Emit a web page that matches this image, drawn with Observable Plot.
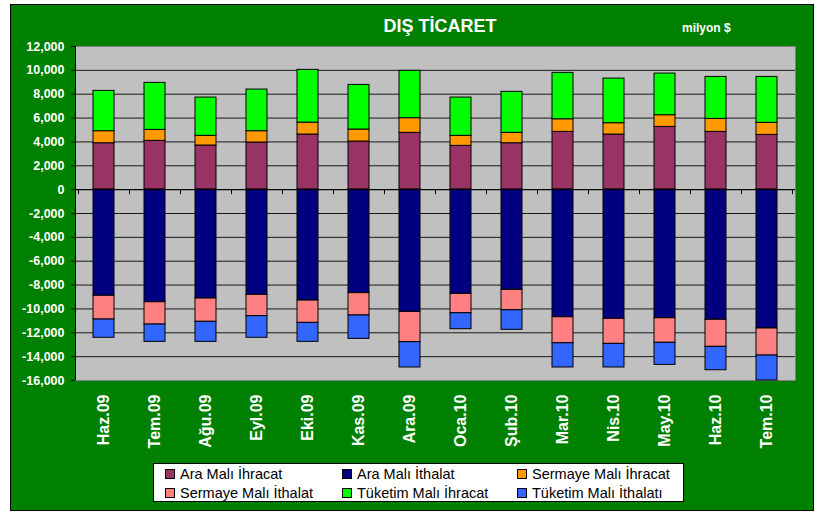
<!DOCTYPE html>
<html>
<head>
<meta charset="utf-8">
<script src="https://cdn.jsdelivr.net/npm/d3@7"></script>
<script src="https://cdn.jsdelivr.net/npm/@observablehq/plot@0.6"></script>
<style>
  body { margin: 0; background: #ffffff; }
  #wrap { position: relative; width: 819px; height: 513px; overflow: hidden; font-family: "Liberation Sans", Arial, sans-serif; }
  #panel { position: absolute; left: 10px; top: 4px; width: 804px; height: 507px; background: #008000; border: 1px solid #000; box-sizing: border-box; }
  #chart { position: absolute; left: 0; top: 0; }
  #title { position: absolute; left: 340px; width: 200px; top: 15px; text-align: center; color: #fff; font-weight: bold; font-size: 18px; line-height: 22px; }
  #unit { position: absolute; left: 682px; top: 20px; color: #fff; font-weight: bold; font-size: 12px; line-height: 16px; }
  #legend { position: absolute; left: 153px; top: 463px; width: 531px; height: 39px; background: #fff; border: 1px solid #000; box-sizing: border-box;
            display: grid; grid-template-columns: 177px 175px 167px; grid-template-rows: 19px 19px; padding-left: 11px; padding-top: 0px; }
  .item { display: flex; align-items: center; font-size: 14.5px; color: #000; white-space: nowrap; }
  .sw { width: 8px; height: 8px; border: 1px solid #000; margin-right: 5px; flex: none; }
</style>
</head>
<body>
<div id="wrap">
  <div id="panel"></div>
  <div id="chart"></div>
  <div id="title">DIŞ TİCARET</div>
  <div id="unit">milyon $</div>
  <div id="legend"></div>
</div>
<script>
const months = ["Haz.09","Tem.09","Ağu.09","Eyl.09","Eki.09","Kas.09","Ara.09","Oca.10","Şub.10","Mar.10","Nis.10","May.10","Haz.10","Tem.10"];

const seriesNames = ["Ara Malı İhracat","Ara Malı İthalat","Sermaye Malı İhracat","Sermaye Malı İthalat","Tüketim Malı İhracat","Tüketim Malı İthalatı"];
const seriesColors = ["#993366","#000080","#FF9900","#FF8080","#00FF00","#3366FF"];

const araIhracat      = [3890,4090,3700,3950,4620,4030,4760,3670,3890,4840,4620,5260,4840,4590];
const araIthalat      = [-8900,-9440,-9130,-8820,-9300,-8680,-10250,-8740,-8400,-10700,-10830,-10780,-10910,-11640];
const sermayeIhracat  = [1010,920,810,950,1000,1010,1230,840,870,1060,950,980,1090,1010];
const sermayeIthalat  = [-1990,-1870,-1950,-1790,-1870,-1870,-2540,-1620,-1710,-2180,-2100,-2060,-2270,-2270];
const tuketimIhracat  = [3380,3940,3210,3490,4420,3740,3970,3210,3440,3890,3740,3490,3520,3850];
const tuketimIthalati = [-1530,-1450,-1680,-1810,-1590,-1960,-2120,-1340,-1640,-2030,-1980,-1850,-1960,-2090];

const yTicks = [-16000,-14000,-12000,-10000,-8000,-6000,-4000,-2000,0,2000,4000,6000,8000,10000,12000];

const seriesValues = [araIhracat, araIthalat, sermayeIhracat, sermayeIthalat, tuketimIhracat, tuketimIthalati];
const data = [];
seriesNames.forEach((s, si) => {
  months.forEach((m, mi) => data.push({month: m, series: s, value: seriesValues[si][mi]}));
});

const padInner = 0.59;
const fmt = d3.formatLocale({decimal: ".", thousands: ",", grouping: [3], currency: ["$", ""], minus: "-"}).format(",");

function axisDecor(index, scales, values, dimensions) {
  const x = scales.x, y = scales.y;
  const xs = months.map(m => x(m));
  const step = xs[1] - xs[0];
  const off = step * padInner / 2;
  const bounds = xs.map(v => v - off).concat([xs[xs.length - 1] + step - off]);
  const y0 = y(0);
  const g = d3.create("svg:g").attr("stroke", "black").attr("stroke-width", 1);
  g.selectAll("line.t").data(bounds).join("line")
    .attr("x1", d => Math.round(d) + 0.5).attr("x2", d => Math.round(d) + 0.5)
    .attr("y1", y0).attr("y2", y0 + 5);
  const xl = dimensions.marginLeft;
  g.append("line").attr("x1", xl + 0.5).attr("x2", xl + 0.5)
    .attr("y1", dimensions.marginTop).attr("y2", dimensions.height - dimensions.marginBottom);
  return g.node();
}

const chart = Plot.plot({
  width: 819,
  height: 470,
  marginLeft: 75,
  marginRight: 24,
  marginTop: 46,
  marginBottom: 90,
  style: {background: "transparent", fontFamily: "'Liberation Sans', Arial, sans-serif", color: "white", overflow: "visible"},
  x: {domain: months, paddingInner: padInner, paddingOuter: padInner / 2, label: null},
  y: {domain: [-16000, 12000], label: null},
  color: {domain: seriesNames, range: seriesColors},
  marks: [
    Plot.frame({fill: "#C0C0C0", stroke: "#808080"}),
    Plot.ruleY(yTicks.filter(t => t > -16000 && t < 12000), {stroke: "#1a1a1a", strokeWidth: 1}),
    Plot.barY(data, {x: "month", y: "value", fill: "series", order: seriesNames, stroke: "black", strokeWidth: 1}),
    Plot.ruleY([0], {stroke: "black", strokeWidth: 1}),
    axisDecor,
    Plot.axisY({ticks: yTicks, tickFormat: fmt, tickSize: 4, tickPadding: 7, fill: "white", stroke: "black", fontWeight: "bold", fontSize: 12.5, label: null}),
    Plot.axisX({tickRotate: -90, tickSize: 0, tickPadding: 14, fill: "white", fontWeight: "bold", fontSize: 16, label: null})
  ]
});
document.getElementById("chart").appendChild(chart);

const legend = document.getElementById("legend");
seriesNames.forEach((s, i) => {
  const it = document.createElement("div");
  it.className = "item";
  const sw = document.createElement("span");
  sw.className = "sw";
  sw.style.background = seriesColors[i];
  it.appendChild(sw);
  it.appendChild(document.createTextNode(s));
  legend.appendChild(it);
});
</script>
</body>
</html>
